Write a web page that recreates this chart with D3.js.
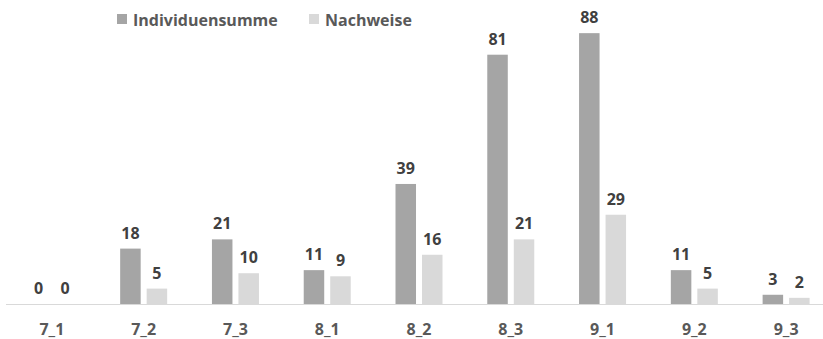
<!DOCTYPE html>
<html><head><meta charset="utf-8">
<script src="https://cdn.jsdelivr.net/npm/d3@7"></script>
<style>body{margin:0;background:#fff}svg{display:block}</style>
</head><body>
<svg id="c" width="823" height="339"></svg>
<script>
const categories = ["7_1","7_2","7_3","8_1","8_2","8_3","9_1","9_2","9_3"];
const individuensumme = [0,18,21,11,39,81,88,11,3];
const nachweise = [0,5,10,9,16,21,29,5,2];
const seriesNames = ["Individuensumme","Nachweise"];
const colors = ["#a5a5a5","#d9d9d9"];

const svg = d3.select("#c");
const font = "'Open Sans', sans-serif";
const fs = 16;
const x = d3.scaleBand().domain(categories).range([6, 832]);
const x1 = d3.scaleBand().domain(seriesNames).range([-23.5, 23.5]).paddingInner(0.226);
const y = d3.scaleLinear().domain([0, 90]).range([304, 27]);

const series = [individuensumme, nachweise];
series.forEach((vals, si) => {
  const g = svg.append("g");
  const cx = c => x(c) + x.bandwidth()/2 + x1(seriesNames[si]);
  g.selectAll("rect").data(categories).join("rect")
    .attr("x", c => cx(c))
    .attr("width", x1.bandwidth())
    .attr("y", (c,i) => y(vals[i]))
    .attr("height", (c,i) => y(0) - y(vals[i]))
    .attr("fill", colors[si]);
  g.selectAll("text").data(categories).join("text")
    .attr("x", c => cx(c) + x1.bandwidth()/2)
    .attr("y", (c,i) => y(vals[i]) - 10)
    .attr("text-anchor","middle")
    .attr("font-family", font).attr("font-weight","bold").attr("font-size", fs)
    .attr("fill","#404040")
    .text((c,i) => vals[i]);
});

// axis line
svg.append("line").attr("x1",6).attr("x2",823).attr("y1",y(0)+0.5).attr("y2",y(0)+0.5)
  .attr("stroke","#d9d9d9").attr("stroke-width",1);

// category labels
svg.append("g").selectAll("text").data(categories).join("text")
  .attr("x", c => x(c) + x.bandwidth()/2)
  .attr("y", 335)
  .attr("text-anchor","middle")
  .attr("font-family", font).attr("font-weight","bold").attr("font-size", fs)
  .attr("fill","#595959")
  .text(c => c);

// legend
const legX = [117, 309];
const lg = svg.append("g");
seriesNames.forEach((n, i) => {
  lg.append("rect").attr("x", legX[i]).attr("y", 14).attr("width", 10).attr("height", 10).attr("fill", colors[i]);
  lg.append("text").attr("x", legX[i] + 16).attr("y", 25.5)
    .attr("font-family", font).attr("font-weight","bold").attr("font-size", fs)
    .attr("fill","#595959").text(n);
});
</script>
</body></html>
